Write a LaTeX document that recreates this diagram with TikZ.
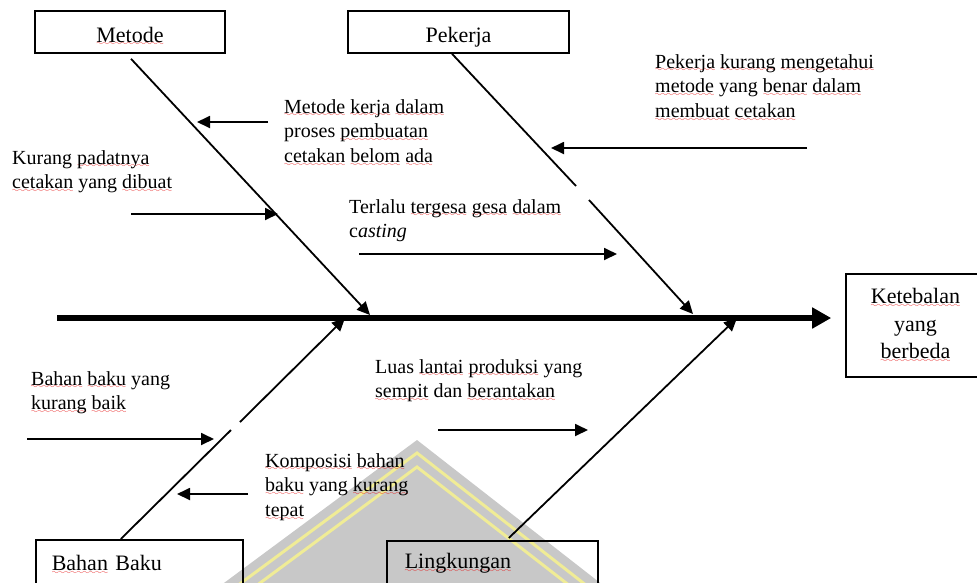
\documentclass[tikz,border=0pt]{standalone}
\usepackage{fontspec}
\setmainfont{Liberation Serif}
\usetikzlibrary{arrows.meta}
\definecolor{sqred}{RGB}{230,20,20}
\definecolor{wmgrey}{RGB}{200,200,200}
\definecolor{wmyellow}{RGB}{240,236,150}
\font\sqwave=lasy8
\newsavebox\sqbox
\newcommand\sq[1]{\sbox\sqbox{#1}\rlap{\lower3.5pt\hbox to\wd\sqbox{\color{sqred}\xleaders\hbox{\sqwave\char58}\hfil}}\usebox\sqbox}
\begin{document}
\begin{tikzpicture}[x=1pt,y=-1pt,
  box/.style={draw, line width=1.6pt, inner sep=0pt, font=\fontsize{22}{27.5}\selectfont},
  cause/.style={anchor=north west, align=left, inner sep=0pt, font=\fontsize{20}{24.8}\selectfont},
  bone/.style={line width=1.8pt},
  bonearrow/.style={line width=1.8pt, -{Triangle[length=13pt,width=12pt]}},
  causearrow/.style={line width=1.8pt, -{Triangle[length=13pt,width=12pt]}},
  spine/.style={line width=6pt, -{Triangle[length=19pt,width=20pt]}}]
\useasboundingbox (0,0) rectangle (977,582);
% watermark
\fill[wmgrey] (201,600) -- (417,440) -- (622,600) -- cycle;
\draw[wmyellow, line width=3pt] (218,600) -- (417,453) -- (605,600);
\draw[wmyellow, line width=3pt] (237,600) -- (417,467) -- (588,600);
% boxes
\node[box, minimum width=190pt, minimum height=42pt, text height=20pt, text depth=0pt] (metode) at (130,32) {\sq{Metode}};
\node[box, minimum width=221pt, minimum height=42pt, text height=20pt, text depth=0pt] (pekerja) at (458.5,32) {Pekerja};
\node[box, anchor=north west, text width=175pt, align=left, inner xsep=16pt, minimum height=62pt, text height=10pt, text depth=10pt] (bahan) at (35,539) {\sq{Bahan} Baku};
\node[box, anchor=north west, text width=175pt, align=left, inner xsep=18pt, minimum height=56pt, text height=10pt, text depth=10pt] (ling) at (386,540) {\sq{Lingkungan}};
\node[box, minimum width=139pt, minimum height=103pt, align=center] (effect) at (915.5,325.5) {\sq{Ketebalan}\\yang\\\sq{berbeda}};
% spine
\coordinate (spL) at (57,318);
\draw[spine, shorten >=14pt] (spL) -- (spL -| effect.west);
% bones
\coordinate (mB) at (370,315);
\coordinate (pg1) at (576,186);
\coordinate (pg2) at (589,200);
\coordinate (pB) at (693,314);
\coordinate (bg1) at (231,430);
\coordinate (bg2) at (240,422);
\coordinate (bB) at (345,318);
\coordinate (lB) at (737,318);
\draw[bonearrow] ([xshift=1pt,yshift=-5pt]metode.south) -- (mB);
\draw[bone] ([xshift=-6.5pt]pekerja.south) -- (pg1);
\draw[bonearrow] (pg2) -- (pB);
\draw[bone] ([xshift=-18.5pt]bahan.north) -- (bg1);
\draw[bonearrow] (bg2) -- (bB);
\draw[bonearrow] ([xshift=16.5pt,yshift=2pt]ling.north) -- (lB);
% causes
\node[cause] (c1) at (284,99) {\sq{Metode} \sq{kerja} \sq{dalam}\\proses \sq{pembuatan}\\\sq{cetakan} \sq{belom} \sq{ada}};
\node[cause] (c2) at (12,150) {Kurang \sq{padatnya}\\\sq{cetakan} yang \sq{dibuat}};
\node[cause] (c3) at (349,199) {Terlalu \sq{tergesa} \sq{gesa} \sq{dalam}\\c\textit{asting}};
\node[cause] (c4) at (655,54) {\sq{Pekerja} \sq{kurang} \sq{mengetahui}\\\sq{metode} yang \sq{benar} \sq{dalam}\\\sq{membuat} \sq{cetakan}};
\node[cause] (c5) at (31,371) {\sq{Bahan} \sq{baku} yang\\\sq{kurang} \sq{baik}};
\node[cause] (c6) at (265,453) {\sq{Komposisi} \sq{bahan}\\\sq{baku} yang \sq{kurang}\\\sq{tepat}};
\node[cause] (c7) at (375,359) {Luas \sq{lantai} \sq{produksi} yang\\\sq{sempit} dan \sq{berantakan}};
% cause arrows
\coordinate (a1s) at (268,122); \coordinate (a1e) at (197,122);
\coordinate (a2s) at (131,214); \coordinate (a2e) at (278,214);
\coordinate (a3s) at (359,254); \coordinate (a3e) at (617,254);
\coordinate (a4s) at (807,148); \coordinate (a4e) at (551,148);
\coordinate (a5s) at (27,439);  \coordinate (a5e) at (214,439);
\coordinate (a6s) at (248,494); \coordinate (a6e) at (177,494);
\coordinate (a7s) at (438,430); \coordinate (a7e) at (588,430);
\draw[causearrow] (a1s) -- (a1e);
\draw[causearrow] (a2s) -- (a2e);
\draw[causearrow] (a3s) -- (a3e);
\draw[causearrow] (a4s) -- (a4e);
\draw[causearrow] (a5s) -- (a5e);
\draw[causearrow] (a6s) -- (a6e);
\draw[causearrow] (a7s) -- (a7e);
\end{tikzpicture}
\end{document}
